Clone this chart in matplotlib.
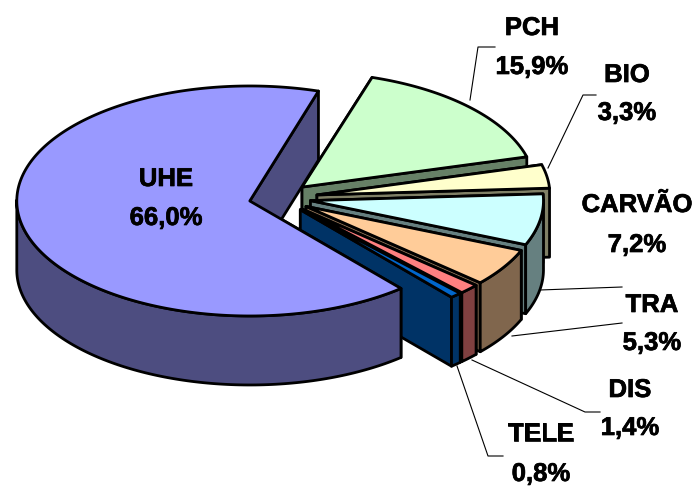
import numpy as np
import matplotlib
matplotlib.use('Agg')
import matplotlib.pyplot as plt
import matplotlib.patheffects as pe
from matplotlib.colors import to_rgb
from matplotlib.patches import Polygon

# fatias em sentido horario, a partir de PCH
nomes = ['PCH', 'BIO', 'CARVÃO', 'TRA', 'DIS', 'TELE', 'UHE']
valores = [15.9, 3.3, 7.2, 5.3, 1.4, 0.8, 66.0]
cores = ['#CCFFCC', '#FFFFCC', '#CCFFFF', '#FFCC99', '#FF8080', '#0066CC', '#9999FF']
explode = [0.137, 0.165, 0.137, 0.137, 0.137, 0.137, 0.128]

# geometria da pizza em pixels
CENTRO = (279, 198)
A, B = 233, 115
ALTURA = 69
INICIO = 72.5

# posicao dos rotulos (centro do nome, centro do valor)
pos_rotulos = [(532, 28, 67), (627, 75, 113), (637, 205, 245), (652, 305, 343),
               (630, 390, 428), (541, 434, 474), (166, 179, 218)]

# linhas de chamada
chamadas = [
    [(470, 100), (478, 47), (495, 47)],
    [(548, 168), (583, 95), (596, 95)],
    [(540, 290), (622, 287)],
    [(512, 336), (622, 323)],
    [(472, 360), (585, 412), (600, 412)],
    [(457, 366), (488, 456), (503, 456)],
]

plt.rcParams['font.family'] = ['Liberation Sans', 'DejaVu Sans']
fig = plt.figure(figsize=(6.96, 4.88), dpi=100)
ax = fig.add_axes([0, 0, 1, 1])
ax.set_xlim(0, 696)
ax.set_ylim(488, 0)
ax.axis('off')


def ponto(cx, cy, t):
    return cx + A * np.cos(np.radians(t)), cy - B * np.sin(np.radians(t))


def poligono(pts, cor, z):
    ax.add_patch(Polygon(pts, closed=True, facecolor=cor, edgecolor='black',
                         linewidth=2.0, joinstyle='round', zorder=z))


z = 1
t0 = INICIO
for valor, cor, exp in zip(valores, cores, explode):
    t1 = t0 - valor * 3.6
    meio = (t0 + t1) / 2
    cx = CENTRO[0] + exp * A * np.cos(np.radians(meio))
    cy = CENTRO[1] - exp * B * np.sin(np.radians(meio))
    escura = tuple(c * 0.5 for c in to_rgb(cor))

    ts = np.append(np.arange(t0, t1, -1.0), t1)
    borda = [ponto(cx, cy, t) for t in ts]

    # faces laterais das duas pontas
    for t in (t0, t1):
        x, y = ponto(cx, cy, t)
        poligono([(cx, cy), (x, y), (x, y + ALTURA), (cx, cy + ALTURA)], escura, z)
        z += 1

    # parede externa, so a parte voltada para frente
    frente = [p for p, t in zip(borda, ts) if np.sin(np.radians(t)) <= 0.02]
    if len(frente) > 1:
        baixo = [(x, y + ALTURA) for x, y in frente]
        poligono(frente + baixo[::-1], escura, z)
        z += 1

    # tampo
    poligono([(cx, cy)] + borda, cor, z)
    z += 1
    t0 = t1

for linha in chamadas:
    xs, ys = zip(*linha)
    ax.plot(xs, ys, color='black', lw=0.8, zorder=z)

# texto um pouco mais pesado, como no original
contorno = [pe.withStroke(linewidth=0.5, foreground='black')]
for nome, valor, (x, y1, y2) in zip(nomes, valores, pos_rotulos):
    ax.text(x, y1, nome, ha='center', va='center', fontsize=18.5, fontweight='bold',
            color='black', zorder=z + 1, path_effects=contorno)
    ax.text(x, y2, f'{valor:.1f}%'.replace('.', ','), ha='center', va='center',
            fontsize=18.5, fontweight='bold', color='black', zorder=z + 1,
            path_effects=contorno)

fig.savefig('out.png', dpi=100)
